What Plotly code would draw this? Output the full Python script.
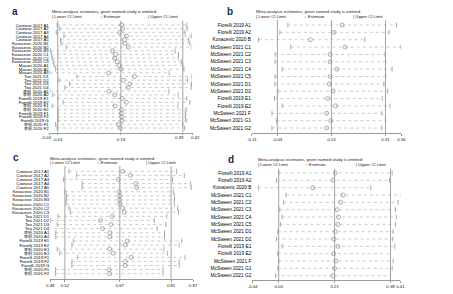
import plotly.graph_objects as go

W, H = 453, 294

# ---------------- data ----------------
labels_a = ["Cootase 2017 A1", "Cootase 2017 A2", "Cootase 2017 A3", "Cootase 2017 A4", "Cootase 2017 A5",
            "Kovacevic 2020 B1", "Kovacevic 2020 B2", "Kovacevic 2020 B3", "Kovacevic 2020 C1", "Kovacevic 2020 C2", "Kovacevic 2020 C3",
            "Masari 2020 A1", "Masari 2020 A2", "Masari 2020 A3",
            "Teo 2021 D1", "Teo 2021 D2", "Teo 2021 D3", "Teo 2021 D4",
            "李明 2020 A1", "李明 2020 A2",
            "Fiorelli 2019 E1", "Fiorelli 2019 E2", "李明 2020 E1", "李明 2020 E2",
            "Fiorelli 2019 F1", "Fiorelli 2019 F2", "Fiorelli 2019 G", "李明 2020 F1", "李明 2020 F2"]
est_a = [0.192, 0.196, 0.187, 0.208, 0.201, 0.203, 0.214, 0.163, 0.173, 0.170, 0.178, 0.185, 0.190, 0.151, 0.234,
         0.198, 0.219, 0.213, 0.152, 0.170, 0.193, 0.208, 0.171, 0.192, 0.191, 0.192, 0.193, 0.182, 0.188]
low_a = [-0.016, -0.007, -0.019, 0.006, -0.005, -0.003, 0.013, -0.037, -0.035, -0.032, -0.029, -0.026, -0.021, -0.040, 0.048,
         -0.010, 0.024, 0.009, -0.040, -0.030, -0.014, 0.003, -0.032, -0.014, -0.014, -0.014, -0.013, -0.021, -0.016]
up_a = [0.403, 0.404, 0.397, 0.417, 0.409, 0.413, 0.420, 0.365, 0.376, 0.375, 0.385, 0.390, 0.394, 0.346, 0.420,
        0.405, 0.418, 0.417, 0.345, 0.375, 0.403, 0.413, 0.374, 0.401, 0.399, 0.399, 0.401, 0.390, 0.396]
overall_a = [-0.014, 0.19, 0.39]
ticks_a = [-0.04, -0.014, 0.19, 0.39, 0.42]
ticktext_a = ["-0.04", "-0.01", "0.19", "0.39", "0.42"]

labels_b = ["Fiorelli 2019 A1", "Fiorelli 2019 A2", "Kovacevic 2020 B", "McSween 2021 C1", "McSween 2021 C2",
            "McSween 2021 C3", "McSween 2021 C4", "McSween 2021 C5", "McSween 2021 D1", "McSween 2021 D2",
            "Fiorelli 2019 E1", "Fiorelli 2019 E2", "McSween 2021 F", "McSween 2021 G1", "McSween 2021 G2"]
est_b = [0.174, 0.148, 0.074, 0.183, 0.136, 0.136, 0.157, 0.136, 0.133, 0.145, 0.129, 0.153, 0.125, 0.138, 0.125]
low_b = [0.003, -0.022, -0.089, 0.012, -0.037, -0.037, -0.015, -0.037, -0.038, -0.028, -0.039, -0.015, -0.047, -0.033, -0.047]
up_b = [0.345, 0.321, 0.245, 0.359, 0.309, 0.311, 0.331, 0.311, 0.305, 0.317, 0.300, 0.324, 0.299, 0.311, 0.299]
overall_b = [-0.03, 0.14, 0.31]
ticks_b = [-0.11, -0.03, 0.14, 0.31, 0.36]
ticktext_b = ["-0.11", "-0.03", "0.14", "0.31", "0.36"]

labels_c = ["Cootase 2017 A1", "Cootase 2017 A2", "Cootase 2017 A3", "Cootase 2017 A4", "Cootase 2017 A5",
            "Kovacevic 2020 B1", "Kovacevic 2020 B2", "Kovacevic 2020 B3", "Kovacevic 2020 C1", "Kovacevic 2020 C2", "Kovacevic 2020 C3",
            "Teo 2021 D1", "Teo 2021 D2", "Teo 2021 D3", "Teo 2021 D4",
            "李明 2020 A1", "李明 2020 A2",
            "Fiorelli 2019 E1", "Fiorelli 2019 E2", "李明 2020 E1", "李明 2020 E2",
            "Fiorelli 2019 F1", "Fiorelli 2019 F2", "Fiorelli 2019 G", "李明 2020 F1", "李明 2020 F2"]
est_c = [0.678, 0.699, 0.666, 0.714, 0.716, 0.668, 0.670, 0.669, 0.670, 0.678, 0.682, 0.649, 0.617, 0.646, 0.623,
         0.643, 0.643, 0.690, 0.685, 0.642, 0.652, 0.701, 0.685, 0.685, 0.641, 0.642]
low_c = [0.531, 0.552, 0.516, 0.567, 0.567, 0.520, 0.524, 0.523, 0.523, 0.531, 0.535, 0.501, 0.481, 0.499, 0.475,
         0.495, 0.495, 0.543, 0.539, 0.499, 0.506, 0.554, 0.539, 0.539, 0.494, 0.494]
up_c = [0.825, 0.846, 0.814, 0.863, 0.865, 0.816, 0.819, 0.819, 0.819, 0.828, 0.830, 0.798, 0.764, 0.796, 0.772,
        0.792, 0.792, 0.839, 0.832, 0.790, 0.800, 0.848, 0.832, 0.832, 0.788, 0.788]
overall_c = [0.52, 0.67, 0.81]
ticks_c = [0.48, 0.52, 0.67, 0.81, 0.87]
ticktext_c = ["0.48", "0.52", "0.67", "0.81", "0.87"]

labels_d = labels_b
est_d = [0.212, 0.205, 0.144, 0.236, 0.228, 0.218, 0.222, 0.220, 0.212, 0.208, 0.220, 0.207, 0.214, 0.210, 0.205]
low_d = [0.040, 0.033, -0.022, 0.062, 0.055, 0.043, 0.050, 0.045, 0.037, 0.033, 0.050, 0.037, 0.040, 0.037, 0.030]
up_d = [0.385, 0.377, 0.320, 0.412, 0.403, 0.395, 0.397, 0.395, 0.388, 0.387, 0.393, 0.380, 0.388, 0.385, 0.380]
overall_d = [0.04, 0.21, 0.38]
ticks_d = [-0.04, 0.04, 0.21, 0.38, 0.41]
ticktext_d = ["-0.04", "0.04", "0.21", "0.38", "0.41"]

title_text = "Meta-analysis estimates, given named study is omitted"

# ---------------- layout helpers ----------------
FONT = "Liberation Sans, Arial, sans-serif"
MARK = "#8a8a8a"
TFS = 4.3

panels = [
    dict(letter="a", labels=labels_a, est=est_a, low=low_a, up=up_a, overall=overall_a, ticks=ticks_a, tt=ticktext_a,
         x0=45.7, x1=191.3, yt=25, yb=128, ya=132.5, lsize=4.3, lpos=(5, 11), tpos=(46, 11.5), leg=(46, 95, 144), legy=16.5),
    dict(letter="b", labels=labels_b, est=est_b, low=low_b, up=up_b, overall=overall_b, ticks=ticks_b, tt=ticktext_b,
         x0=252.5, x1=405.3, yt=25, yb=128, ya=133, lsize=4.8, lpos=(225, 11), tpos=(255, 11), leg=(255, 304, 354), legy=16.7),
    dict(letter="c", labels=labels_c, est=est_c, low=low_c, up=up_c, overall=overall_c, ticks=ticks_c, tt=ticktext_c,
         x0=46.3, x1=192.3, yt=171.3, yb=273.7, ya=279, lsize=4.3, lpos=(6, 157), tpos=(44, 158), leg=(44, 92, 142), legy=162.5),
    dict(letter="d", labels=labels_d, est=est_d, low=low_d, up=up_d, overall=overall_d, ticks=ticks_d, tt=ticktext_d,
         x0=253, x1=404.3, yt=173, yb=275.7, ya=280, lsize=4.8, lpos=(226, 159), tpos=(257, 159), leg=(257, 305, 357), legy=164.5),
]

fig = go.Figure()
layout = dict(width=W, height=H, margin=dict(l=0, r=0, t=0, b=0), paper_bgcolor="white",
              plot_bgcolor="white", showlegend=False, annotations=[], shapes=[])

for k, p in enumerate(panels, start=1):
    n = len(p["labels"])
    idx = list(range(n))
    xa = "x" if k == 1 else f"x{k}"
    ya_ = "y" if k == 1 else f"y{k}"
    xs, ys = [], []
    for i in idx:
        xs += [p["low"][i], p["up"][i], None]
        ys += [i, i, None]
    fig.add_trace(go.Scatter(x=xs, y=ys, mode="lines", line=dict(color="#b4b4b4", width=0.7, dash="dot"),
                             xaxis=xa, yaxis=ya_, hoverinfo="skip"))
    for arr in (p["low"], p["up"]):
        fig.add_trace(go.Scatter(x=arr, y=idx, mode="markers",
                                 marker=dict(symbol="line-ns-open", size=3.5, color=MARK,
                                             line=dict(color=MARK, width=0.7)),
                                 xaxis=xa, yaxis=ya_))
    fig.add_trace(go.Scatter(x=p["est"], y=idx, mode="markers",
                             marker=dict(symbol="circle-open", size=4, color=MARK, line=dict(color=MARK, width=0.7)),
                             xaxis=xa, yaxis=ya_))

    s = (p["yb"] - p["yt"]) / (n - 1)
    pad = (p["ya"] - p["yb"]) / s
    ytop = p["yt"] - (p["ya"] - p["yb"])
    xdom = [p["x0"] / W, p["x1"] / W]
    ydom = [1 - p["ya"] / H, 1 - ytop / H]
    xkey = "xaxis" if k == 1 else f"xaxis{k}"
    ykey = "yaxis" if k == 1 else f"yaxis{k}"

    # the two leftmost ticks / two rightmost ticks sit close together: draw their
    # labels as annotations anchored away from each other so they do not collide
    tt = list(p["tt"])
    edge_notes = []
    if k == 1:
        edge_notes = [(p["ticks"][0], tt[0], "right"), (p["ticks"][-1], tt[-1], "left"),
                      (p["ticks"][-2], tt[-2], "right")]
        tt[0] = ""
        tt[-1] = ""
        tt[-2] = ""
    layout[xkey] = dict(domain=xdom, range=[p["ticks"][0], p["ticks"][-1]], anchor=ya_,
                        tickvals=p["ticks"], ticktext=tt, showgrid=False, zeroline=False,
                        showline=True, linecolor="#9a9a9a", linewidth=0.8, ticks="outside", ticklen=2,
                        tickcolor="#9a9a9a", tickwidth=0.6, tickangle=0,
                        tickfont=dict(size=TFS, color="#111", family=FONT))
    for xv, txt, anc in edge_notes:
        off = 3 if anc == "right" else -3
        layout["annotations"].append(dict(text=txt, xref=xa, yref="paper", x=xv, xshift=off,
                                          y=1 - (p["ya"] + 5) / H, xanchor=anc, yanchor="middle",
                                          showarrow=False, font=dict(size=TFS, color="#111", family=FONT)))
    layout[ykey] = dict(domain=ydom, range=[n - 1 + pad, -pad], anchor=xa,
                        tickvals=idx, ticktext=p["labels"], showgrid=False, zeroline=False,
                        showline=False, ticks="", ticklen=0,
                        tickfont=dict(size=p["lsize"], color="#000", family=FONT))
    for v in p["overall"]:
        layout["shapes"].append(dict(type="line", xref=xa, yref=f"{ya_} domain", x0=v, x1=v, y0=0, y1=1,
                                     line=dict(color="#9a9a9a", width=0.9)))
    layout["annotations"].append(dict(text=f"<b>{p['letter']}</b>", xref="paper", yref="paper",
                                      x=p["lpos"][0] / W, y=1 - p["lpos"][1] / H, xanchor="left", yanchor="middle",
                                      showarrow=False, font=dict(size=10, color="#1a2a50", family=FONT)))
    layout["annotations"].append(dict(text=title_text, xref="paper", yref="paper",
                                      x=p["tpos"][0] / W, y=1 - p["tpos"][1] / H, xanchor="left", yanchor="middle",
                                      showarrow=False, font=dict(size=4.3, color="#222", family=FONT)))
    for txt, lx in zip(["| Lower CI Limit", "○ Estimate", "| Upper CI Limit"], p["leg"]):
        layout["annotations"].append(dict(text=txt, xref="paper", yref="paper",
                                          x=lx / W, y=1 - p["legy"] / H, xanchor="left", yanchor="middle",
                                          showarrow=False, font=dict(size=4.3, color="#222", family=FONT)))

fig.update_layout(**layout)
fig.write_html("out.html", config={"displayModeBar": False},
               post_script="document.body.style.margin='0';document.body.style.padding='0';")
